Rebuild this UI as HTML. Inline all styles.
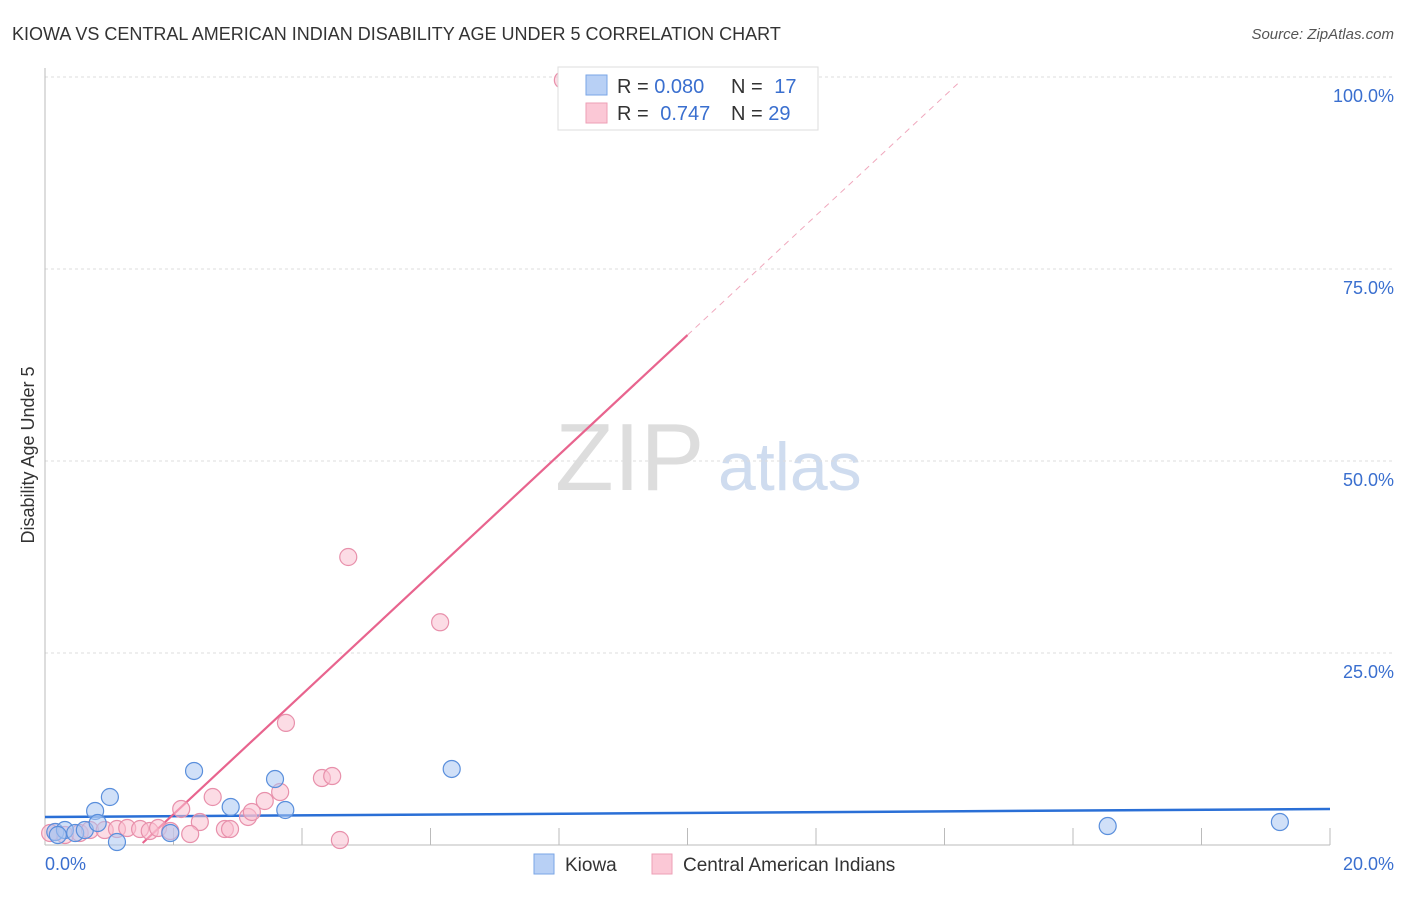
<!DOCTYPE html>
<html><head><meta charset="utf-8"><style>
body{margin:0;background:#fff;font-family:"Liberation Sans",sans-serif;}
svg text{font-family:"Liberation Sans",sans-serif;}
</style></head><body>
<svg width="1406" height="892" viewBox="0 0 1406 892">
<text x="12" y="40" font-size="18" fill="#333">KIOWA VS CENTRAL AMERICAN INDIAN DISABILITY AGE UNDER 5 CORRELATION CHART</text>
<text x="1394" y="39" font-size="15" fill="#555" text-anchor="end" font-style="italic">Source: ZipAtlas.com</text>
<text x="555" y="490" font-size="96" fill="#ddd" font-family="Liberation Serif,serif">ZIP</text>
<text x="718" y="490" font-size="68" fill="#cfdcef">atlas</text>
<g id="grid"></g>
<g id="axes"></g>
<g id="lines"></g>
<g id="pts"></g>
<text transform="translate(34,455) rotate(-90)" font-size="18" fill="#333" text-anchor="middle">Disability Age Under 5</text>
<text x="45" y="870" font-size="18" fill="#3a6fcf">0.0%</text>
<text x="1394" y="870" font-size="18" fill="#3a6fcf" text-anchor="end">20.0%</text>
<g>
<rect x="558" y="67" width="260" height="63" fill="#fff" stroke="#ddd"/>
<rect x="586" y="75" width="21" height="20" fill="#b8d0f5" stroke="#7aa6e6"/>
<rect x="586" y="103" width="21" height="20" fill="#fbc8d6" stroke="#ee9fb6"/>
<text x="617" y="93" font-size="20" fill="#333">R = <tspan fill="#3a6fcf">0.080</tspan></text>
<text x="731" y="93" font-size="20" fill="#333">N = <tspan fill="#3a6fcf" dx="6">17</tspan></text>
<text x="617" y="120" font-size="20" fill="#333">R = <tspan fill="#3a6fcf" dx="6">0.747</tspan></text>
<text x="731" y="120" font-size="20" fill="#333">N = <tspan fill="#3a6fcf">29</tspan></text>
</g>
<g>
<rect x="534" y="854" width="20" height="20" fill="#b8d0f5" stroke="#7aa6e6"/>
<text x="565" y="871" font-size="19" fill="#333">Kiowa</text>
<rect x="652" y="854" width="20" height="20" fill="#fbc8d6" stroke="#ee9fb6"/>
<text x="683" y="871" font-size="19" fill="#333">Central American Indians</text>
</g>
</svg>
<script>
const yTicks=[25,50,75,100];
const yTickLabels=["25.0%","50.0%","75.0%","100.0%"];
const xTicks=[0,2,4,6,8,10,12,14,16,18,20];
const kiowaX=[0.16,0.31,0.47,0.62,0.78,1.01,0.82,1.12,1.95,2.32,2.89,3.58,3.74,6.33,16.54,19.22,0.2];
const kiowaY=[1.69,1.95,1.56,1.95,4.43,6.25,2.86,0.39,1.56,9.64,4.95,8.59,4.56,9.9,2.47,2.99,1.3];
const caiX=[8.06,4.72,6.15,3.75,4.31,4.47,2.12,2.61,2.41,2.26,2.80,2.88,3.16,3.22,3.42,3.66,4.59,0.16,0.31,0.54,0.70,0.93,1.12,1.28,1.48,1.63,1.76,1.95,0.08];
const caiY=[99.6,37.5,29.0,15.9,8.72,8.98,4.69,6.25,2.99,1.43,2.08,2.08,3.65,4.30,5.73,6.90,0.65,1.69,1.30,1.56,1.95,1.95,2.08,2.21,2.08,1.82,2.21,1.82,1.56];
const kiowaLine=[[0,3.65],[20,4.69]];
const caiLine=[[1.52,0.26],[10.0,66.4]];
const caiDash=[[10.0,66.4],[14.24,99.4]];
const NS="http://www.w3.org/2000/svg";
const sx=v=>45+v/20*1285, sy=v=>845-v/100*768;
function mk(t,a,p){const e=document.createElementNS(NS,t);for(const k in a)e.setAttribute(k,a[k]);document.getElementById(p).appendChild(e);return e;}
yTicks.forEach((t,i)=>{
 const g=mk('line',{x1:45,x2:1394,y1:sy(t),y2:sy(t),stroke:'#ddd','stroke-dasharray':'3,3'},'grid');
 
 
 const tx=mk('text',{x:1394,y:sy(t)+25,'font-size':18,fill:'#3a6fcf','text-anchor':'end'},'grid');
 tx.textContent=yTickLabels[i];
 
 
});
const ya=mk('line',{x1:45,x2:45,y1:68,y2:845,stroke:'#bbb'},'axes');


const xa=mk('line',{x1:45,x2:1330,y1:845,y2:845,stroke:'#bbb'},'axes');


xTicks.forEach(t=>{
 const l=mk('line',{x1:sx(t),x2:sx(t),y1:828,y2:845,stroke:'#bbb'},'axes');
 
 
});
function pts(X,Y,fill,stroke,name){X.forEach((x,i)=>{
 const c=mk('circle',{cx:sx(x),cy:sy(Y[i]),r:8.5,fill:fill,'fill-opacity':0.55,stroke:stroke,'stroke-width':1.2},'pts');
 
 
});}
pts(caiX,caiY,'#f9bfd0','#e890ab','cai-point');
pts(kiowaX,kiowaY,'#a9c7f2','#5a8fdc','kiowa-point');
const l1=mk('line',{x1:sx(kiowaLine[0][0]),y1:sy(kiowaLine[0][1]),x2:sx(kiowaLine[1][0]),y2:sy(kiowaLine[1][1]),stroke:'#2a6fd6','stroke-width':2.5},'lines');


const l2=mk('line',{x1:sx(caiLine[0][0]),y1:sy(caiLine[0][1]),x2:sx(caiLine[1][0]),y2:sy(caiLine[1][1]),stroke:'#e8648e','stroke-width':2.2},'lines');


const l3=mk('line',{x1:sx(caiDash[0][0]),y1:sy(caiDash[0][1]),x2:sx(caiDash[1][0]),y2:sy(caiDash[1][1]),stroke:'#f0a8bd','stroke-width':1,'stroke-dasharray':'6,5'},'lines');


</script>
</body></html>
